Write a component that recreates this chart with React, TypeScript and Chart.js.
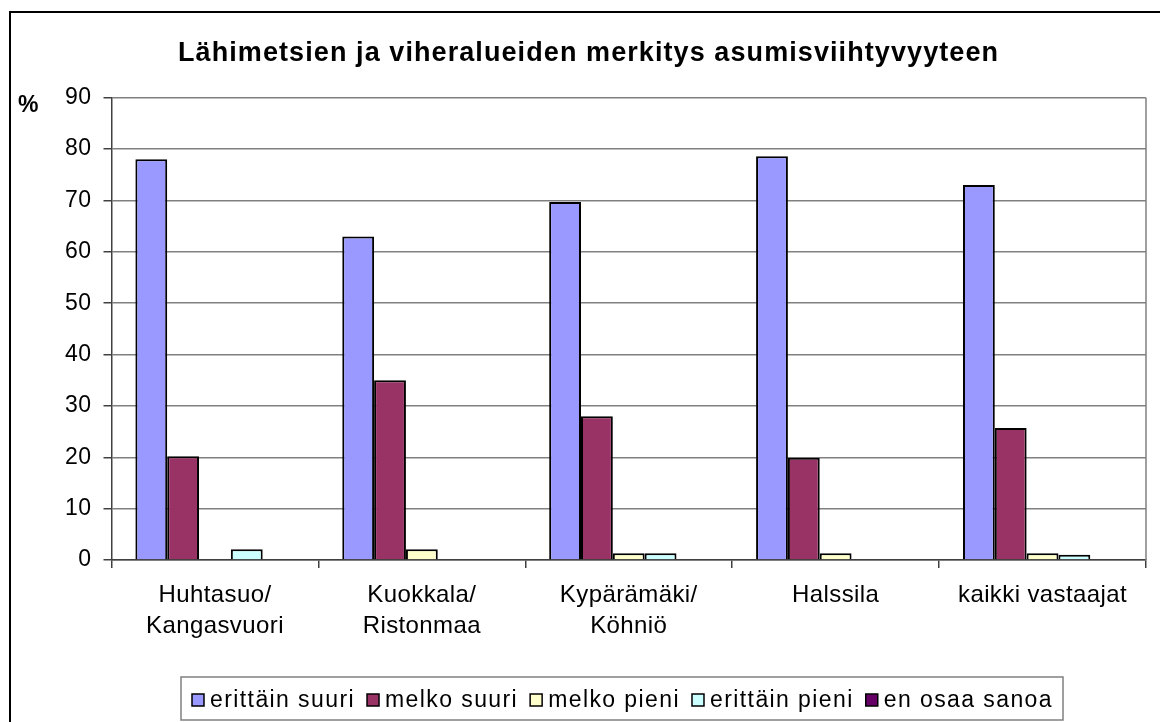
import React, { useEffect, useRef } from 'react';
import { Chart, registerables } from 'chart.js';

Chart.register(...registerables);

const TITLE = 'Lähimetsien ja viheralueiden merkitys asumisviihtyvyyteen';
const Y_LABEL = '%';
const CATEGORIES: (string | string[])[] = [
  ['Huhtasuo/', 'Kangasvuori'],
  ['Kuokkala/', 'Ristonmaa'],
  ['Kypärämäki/', 'Köhniö'],
  'Halssila',
  'kaikki vastaajat',
];
const SERIES_NAMES = ['erittäin suuri', 'melko suuri', 'melko pieni', 'erittäin pieni', 'en osaa sanoa'];
const ERITTAIN_SUURI = [78, 63, 69.7, 78.6, 73];
const MELKO_SUURI = [20.2, 35, 28, 19.9, 25.7];
const MELKO_PIENI = [null, 2.1, 1.3, 1.3, 1.3];
const ERITTAIN_PIENI = [2.1, null, 1.3, null, 1.0];
const EN_OSAA_SANOA = [null, null, null, null, null];
const SERIES_VALUES = [ERITTAIN_SUURI, MELKO_SUURI, MELKO_PIENI, ERITTAIN_PIENI, EN_OSAA_SANOA];
const COLORS = ['#9999FF', '#993366', '#FFFFCC', '#CCFFFF', '#660066'];
const Y_MIN = 0;
const Y_MAX = 90;
const Y_STEP = 10;

const FONT = '"Liberation Sans", Arial, sans-serif';
const W = 1160;
const H = 722;
const SPACING = '0.4px';

const decor = {
  id: 'decor',
  beforeLayout(chart: any) {
    chart.ctx.letterSpacing = SPACING;
  },
  beforeDraw(chart: any) {
    const ctx = chart.ctx;
    ctx.letterSpacing = SPACING;
    ctx.save();
    ctx.fillStyle = '#ffffff';
    ctx.fillRect(0, 0, chart.width, chart.height);
    ctx.restore();
  },
  afterDraw(chart: any) {
    const { ctx, chartArea } = chart;
    ctx.save();
    // plot area right border
    ctx.strokeStyle = '#808080';
    ctx.lineWidth = 1.5;
    ctx.beginPath();
    ctx.moveTo(chartArea.right, chartArea.top);
    ctx.lineTo(chartArea.right, chartArea.bottom);
    ctx.stroke();

    // outer chart border
    ctx.strokeStyle = '#000';
    ctx.lineWidth = 2;
    ctx.beginPath();
    ctx.moveTo(10, chart.height + 5);
    ctx.lineTo(10, 12);
    ctx.lineTo(chart.width + 5, 12);
    ctx.stroke();

    // title
    ctx.fillStyle = '#000';
    ctx.textAlign = 'left';
    ctx.textBaseline = 'alphabetic';
    ctx.font = `bold 27px ${FONT}`;
    ctx.letterSpacing = '0px';
    const tw = ctx.measureText(TITLE).width;
    const tsp = (820 - tw) / (TITLE.length - 1);
    ctx.letterSpacing = `${tsp}px`;
    ctx.fillText(TITLE, 178, 61);

    // y unit label
    ctx.letterSpacing = '0px';
    ctx.font = `bold 23px ${FONT}`;
    ctx.fillText(Y_LABEL, 18, 112);

    // legend
    const boxL = 181, boxR = 1063, boxT = 677, boxB = 720;
    ctx.strokeStyle = '#808080';
    ctx.lineWidth = 1.5;
    ctx.strokeRect(boxL, boxT, boxR - boxL, boxB - boxT);
    ctx.font = `23px ${FONT}`;
    ctx.letterSpacing = '0px';
    const sq = 12, sqGap = 6, itemGap = 12;
    const contentL = 192, contentR = 1053;
    let textTotal = 0;
    let chars = 0;
    SERIES_NAMES.forEach((n) => {
      textTotal += ctx.measureText(n).width;
      chars += n.length;
    });
    const avail = contentR - contentL - SERIES_NAMES.length * (sq + sqGap) - (SERIES_NAMES.length - 1) * itemGap;
    const lsp = (avail - textTotal) / chars;
    ctx.letterSpacing = `${lsp}px`;
    const cy = 700;
    let x = contentL;
    ctx.textBaseline = 'middle';
    SERIES_NAMES.forEach((n, i) => {
      ctx.fillStyle = COLORS[i];
      ctx.fillRect(x, cy - sq / 2, sq, sq);
      ctx.strokeStyle = '#000';
      ctx.lineWidth = 1.5;
      ctx.strokeRect(x, cy - sq / 2, sq, sq);
      x += sq + sqGap;
      ctx.fillStyle = '#000';
      ctx.fillText(n, x, cy + 1);
      x += ctx.measureText(n).width + itemGap;
    });
    ctx.restore();
  },
};

export default function App() {
  const ref = useRef<HTMLCanvasElement | null>(null);
  useEffect(() => {
    if (!ref.current) return;
    const chart = new Chart(ref.current, {
      type: 'bar',
      data: {
        labels: CATEGORIES as any,
        datasets: SERIES_NAMES.map((name, i) => ({
          label: name,
          data: SERIES_VALUES[i] as any,
          backgroundColor: COLORS[i],
          borderColor: '#000',
          borderWidth: 2,
          categoryPercentage: 5 / 6.5,
          barPercentage: 1,
        })),
      },
      options: {
        responsive: false,
        animation: false,
        devicePixelRatio: 1,
        layout: { padding: { left: 0, top: 97.7, right: 14, bottom: 0 } },
        plugins: {
          legend: { display: false },
          title: { display: false },
          tooltip: { enabled: false },
        },
        scales: {
          x: {
            ticks: {
              color: '#000',
              font: { size: 24, family: FONT, lineHeight: 31 / 24 },
              padding: 12,
              maxRotation: 0,
              autoSkip: false,
            },
            grid: {
              offset: true,
              drawOnChartArea: false,
              drawTicks: true,
              tickLength: 8,
              tickColor: '#404040',
              lineWidth: 1.5,
            },
            border: { color: '#404040', width: 1.5 },
            afterFit: (s: any) => {
              s.height = 162;
            },
          },
          y: {
            min: Y_MIN,
            max: Y_MAX,
            ticks: {
              stepSize: Y_STEP,
              color: '#000',
              font: { size: 23, family: FONT },
              padding: 12,
            },
            grid: {
              color: '#808080',
              lineWidth: 1.5,
              drawTicks: true,
              tickLength: 8,
              tickColor: '#404040',
            },
            border: { color: '#404040', width: 1.5 },
            afterFit: (s: any) => {
              s.width = 111.5;
            },
          },
        },
      },
      plugins: [decor],
    });
    return () => chart.destroy();
  }, []);
  return (
    <div style={{ position: 'absolute', left: 0, top: 0, width: W, height: H, background: '#fff' }}>
      <canvas ref={ref} width={W} height={H} style={{ width: W, height: H, display: 'block' }} />
    </div>
  );
}
